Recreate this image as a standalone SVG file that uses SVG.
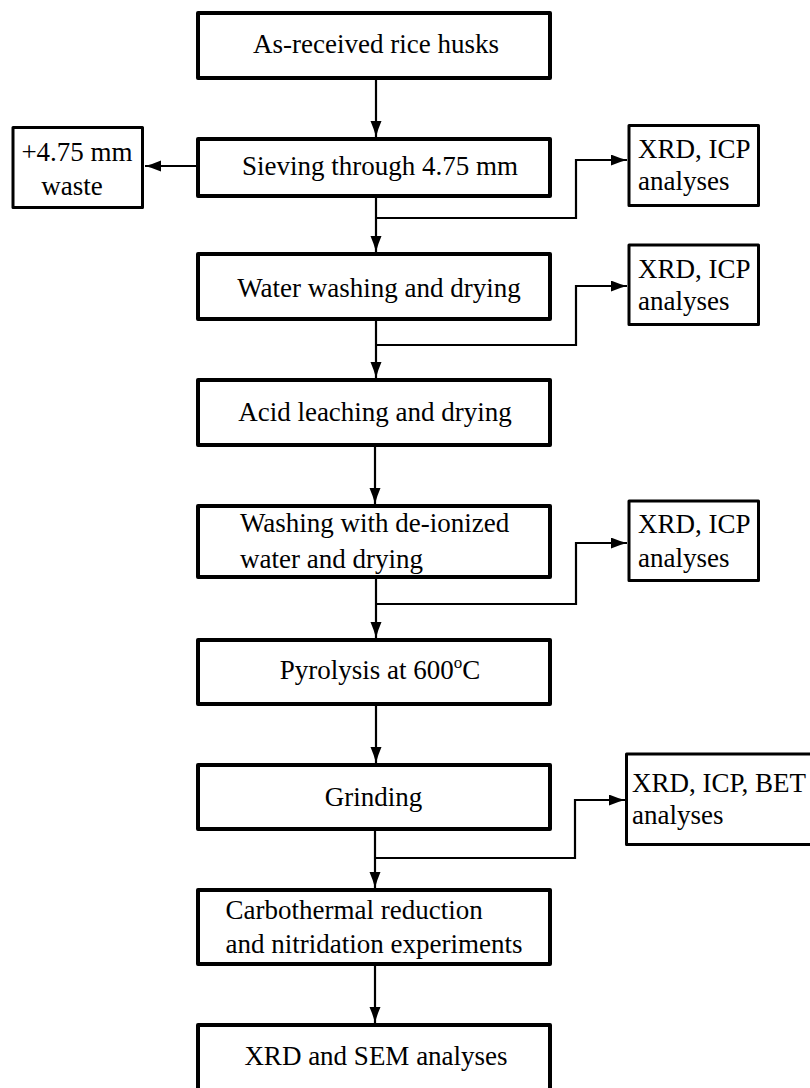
<svg xmlns="http://www.w3.org/2000/svg" width="810" height="1088" viewBox="0 0 810 1088">
<style>
.main{fill:#fff;stroke:#000;stroke-width:4;stroke-linejoin:round}
.side{fill:#fff;stroke:#000;stroke-width:3;stroke-linejoin:round}
.con{fill:none;stroke:#000;stroke-width:2.2}
text{font-family:"Liberation Serif","Times New Roman",serif;font-size:27px;fill:#000}
.c{text-anchor:middle}
</style>
<defs>
<marker id="ah" markerUnits="userSpaceOnUse" markerWidth="17" markerHeight="12" refX="16" refY="5.5" orient="auto">
<path d="M0,0 Q8,3.5 16,5.5 Q8,7.5 0,11 Z" fill="#000"/>
</marker>
</defs>
<rect width="810" height="1088" fill="#fff"/>
<g id="connectors">
<line class="con" x1="376" y1="80" x2="376" y2="137" marker-end="url(#ah)"/>
<line class="con" x1="198" y1="166" x2="145" y2="166" marker-end="url(#ah)"/>
<line class="con" x1="376" y1="198" x2="376" y2="252" marker-end="url(#ah)"/>
<polyline class="con" points="376,218 576,218 576,160 627,160" marker-end="url(#ah)"/>
<line class="con" x1="376" y1="321" x2="376" y2="378" marker-end="url(#ah)"/>
<polyline class="con" points="376,345 576,345 576,286 627,286" marker-end="url(#ah)"/>
<line class="con" x1="375" y1="447" x2="375" y2="504" marker-end="url(#ah)"/>
<line class="con" x1="376" y1="579" x2="376" y2="638" marker-end="url(#ah)"/>
<polyline class="con" points="376,604 576,604 576,543 627,543" marker-end="url(#ah)"/>
<line class="con" x1="376" y1="706" x2="376" y2="763" marker-end="url(#ah)"/>
<line class="con" x1="375" y1="831" x2="375" y2="888" marker-end="url(#ah)"/>
<polyline class="con" points="375,858 575,858 575,800 625,800" marker-end="url(#ah)"/>
<line class="con" x1="375" y1="966" x2="375" y2="1023" marker-end="url(#ah)"/>
</g>
<g id="n1"><rect class="main" x="198" y="13" width="352" height="65"/><text class="c" x="376" y="53">As-received rice husks</text></g>
<g id="n2"><rect class="main" x="198" y="139" width="352" height="57"/><text class="c" x="380" y="175">Sieving through 4.75 mm</text></g>
<g id="waste"><rect class="side" x="13" y="127.5" width="129.5" height="80"/><text class="c" x="77" y="161">+4.75 mm</text><text class="c" x="72" y="195">waste</text></g>
<g id="a1"><rect class="side" x="629" y="125.5" width="129.5" height="80"/><text x="638" y="158">XRD, ICP</text><text x="638" y="190">analyses</text></g>
<g id="n3"><rect class="main" x="198" y="254" width="352" height="65"/><text class="c" x="379" y="297">Water washing and drying</text></g>
<g id="a2"><rect class="side" x="629" y="245" width="129.5" height="79.5"/><text x="638" y="278">XRD, ICP</text><text x="638" y="310">analyses</text></g>
<g id="n4"><rect class="main" x="198" y="380" width="352" height="65"/><text class="c" x="375" y="421">Acid leaching and drying</text></g>
<g id="n5"><rect class="main" x="198" y="506" width="352" height="71"/><text x="240" y="532">Washing with de-ionized</text><text x="240" y="568">water and drying</text></g>
<g id="a3"><rect class="side" x="629" y="501" width="129.5" height="79.5"/><text x="638" y="533">XRD, ICP</text><text x="638" y="567">analyses</text></g>
<g id="n6"><rect class="main" x="198" y="640" width="352" height="64"/><text class="c" x="380" y="679">Pyrolysis at 600<tspan font-size="17" dy="-11">o</tspan><tspan dy="11">C</tspan></text></g>
<g id="n7"><rect class="main" x="198" y="765" width="352" height="64"/><text class="c" x="373.5" y="806">Grinding</text></g>
<g id="a4"><rect class="side" x="626.5" y="754" width="220" height="90.5"/><text x="632" y="792">XRD, ICP, BET</text><text x="632" y="824">analyses</text></g>
<g id="n8"><rect class="main" x="198" y="890" width="352" height="74"/><text x="225.5" y="919">Carbothermal reduction</text><text x="225.5" y="953">and nitridation experiments</text></g>
<g id="n9"><rect class="main" x="198" y="1025" width="352" height="100"/><text class="c" x="376" y="1065">XRD and SEM analyses</text></g>
</svg>
